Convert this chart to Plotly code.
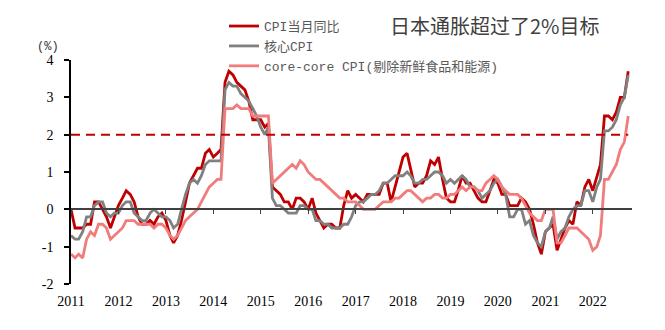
import pandas as pd
import plotly.graph_objects as go

# ---- data (monthly, Jan 2011 - Oct 2022, YoY %) ----
start_month = "2011-01-01"
end_month = "2022-10-01"
months = pd.date_range(start_month, end_month, freq="MS")

cpi_headline = [
    0.0, -0.5, -0.5, -0.5, -0.4, -0.4, 0.2, 0.2, 0.0, -0.2, -0.5, -0.2,   # 2011
    0.1, 0.3, 0.5, 0.4, 0.2, -0.2, -0.4, -0.4, -0.3, -0.4, -0.2, -0.1,    # 2012
    -0.3, -0.7, -0.9, -0.7, -0.3, 0.2, 0.7, 0.9, 1.1, 1.1, 1.5, 1.6,      # 2013
    1.4, 1.5, 1.6, 3.4, 3.7, 3.6, 3.4, 3.3, 3.2, 2.9, 2.4, 2.4,           # 2014
    2.4, 2.2, 2.3, 0.6, 0.5, 0.4, 0.2, 0.2, 0.0, 0.3, 0.3, 0.2,           # 2015
    0.0, 0.3, -0.1, -0.3, -0.5, -0.4, -0.4, -0.5, -0.5, 0.1, 0.5, 0.3,    # 2016
    0.4, 0.3, 0.2, 0.4, 0.4, 0.4, 0.4, 0.7, 0.7, 0.2, 0.6, 1.0,           # 2017
    1.4, 1.5, 1.1, 0.6, 0.7, 0.7, 0.9, 1.3, 1.2, 1.4, 0.8, 0.3,           # 2018
    0.2, 0.2, 0.5, 0.9, 0.7, 0.7, 0.5, 0.3, 0.2, 0.2, 0.5, 0.8,           # 2019
    0.7, 0.4, 0.4, 0.1, 0.1, 0.1, 0.3, 0.2, 0.0, -0.4, -0.9, -1.2,        # 2020
    -0.6, -0.5, -0.4, -1.1, -0.8, -0.5, -0.3, -0.4, 0.2, 0.1, 0.6, 0.8,   # 2021
    0.5, 0.9, 1.2, 2.5, 2.5, 2.4, 2.6, 3.0, 3.0, 3.7,                     # 2022
]

cpi_core = [
    -0.7, -0.8, -0.8, -0.6, -0.2, -0.2, 0.1, 0.2, 0.2, -0.1, -0.2, -0.1,  # 2011
    -0.1, 0.1, 0.2, 0.2, -0.1, -0.2, -0.3, -0.3, -0.1, 0.0, -0.1, -0.2,   # 2012
    -0.2, -0.3, -0.5, -0.4, 0.0, 0.4, 0.7, 0.8, 0.7, 0.9, 1.2, 1.3,       # 2013
    1.3, 1.3, 1.3, 3.2, 3.4, 3.3, 3.3, 3.1, 3.0, 2.9, 2.7, 2.5,           # 2014
    2.2, 2.0, 2.2, 0.3, 0.1, 0.1, 0.0, -0.1, -0.1, -0.1, 0.1, 0.1,        # 2015
    0.0, 0.0, -0.3, -0.3, -0.4, -0.4, -0.5, -0.5, -0.5, -0.4, -0.4, -0.2, # 2016
    0.1, 0.2, 0.2, 0.3, 0.4, 0.4, 0.5, 0.7, 0.7, 0.8, 0.9, 0.9,           # 2017
    0.9, 1.0, 0.9, 0.7, 0.7, 0.8, 0.8, 0.9, 1.0, 1.0, 0.9, 0.7,           # 2018
    0.8, 0.7, 0.8, 0.9, 0.8, 0.6, 0.6, 0.5, 0.3, 0.4, 0.5, 0.7,           # 2019
    0.8, 0.6, 0.4, -0.2, -0.2, 0.0, 0.0, -0.4, -0.3, -0.7, -0.9, -1.0,    # 2020
    -0.6, -0.5, -0.2, -0.8, -0.6, -0.5, -0.2, 0.0, 0.1, 0.1, 0.5, 0.5,    # 2021
    0.2, 0.6, 0.8, 2.1, 2.1, 2.2, 2.4, 2.8, 3.0, 3.6,                     # 2022
]

cpi_core_core = [
    -1.2, -1.3, -1.2, -1.3, -0.8, -0.6, -0.7, -0.4, -0.4, -0.5, -0.8, -0.7,  # 2011
    -0.6, -0.5, -0.3, -0.3, -0.3, -0.4, -0.4, -0.4, -0.4, -0.5, -0.4, -0.4,  # 2012
    -0.5, -0.7, -0.8, -0.7, -0.5, -0.3, -0.2, -0.1, 0.0, 0.2, 0.4, 0.6,      # 2013
    0.7, 0.8, 0.8, 2.7, 2.7, 2.7, 2.8, 2.7, 2.7, 2.7, 2.5, 2.5,              # 2014
    2.5, 2.5, 2.5, 0.7, 0.8, 0.9, 1.0, 1.1, 1.2, 1.1, 1.3, 1.2,              # 2015
    1.0, 0.9, 0.8, 0.8, 0.7, 0.6, 0.5, 0.4, 0.3, 0.3, 0.2, 0.2,              # 2016
    0.2, 0.1, 0.0, 0.0, 0.0, 0.0, 0.1, 0.2, 0.2, 0.2, 0.3, 0.3,              # 2017
    0.4, 0.5, 0.5, 0.4, 0.3, 0.2, 0.3, 0.3, 0.4, 0.4, 0.3, 0.3,              # 2018
    0.4, 0.4, 0.5, 0.6, 0.5, 0.6, 0.6, 0.5, 0.5, 0.7, 0.8, 0.9,              # 2019
    0.8, 0.6, 0.5, 0.4, 0.4, 0.4, 0.3, 0.1, -0.1, -0.2, -0.3, -0.3,          # 2020
    0.0, 0.0, 0.0, -0.9, -0.9, -0.7, -0.5, -0.5, -0.5, -0.6, -0.7, -0.8,     # 2021
    -1.1, -1.0, -0.7, 0.8, 0.8, 1.0, 1.2, 1.6, 1.8, 2.5,                     # 2022
]

target = 2.0

series_names = ["CPI当月同比", "核心CPI", "core-core CPI(剔除新鲜食品和能源)"]
year_ticks = [str(y) for y in range(2011, 2023)]
y_ticks = [-2, -1, 0, 1, 2, 3, 4]
y_tick_labels = ["-2", "-1", "0", "1", "2", "3", "4"]
title_text = "日本通胀超过了2%目标"
unit_text = "(%)"

# ---- styling ----
colors = ["#C00000", "#808080", "#F07C7C"]
serif = "Liberation Serif, Times New Roman, serif"
mono = "Liberation Mono, Noto Sans CJK SC, monospace"
x_range = [start_month, "2022-10-30"]
year_tickvals = [f"{y}-01-01" for y in year_ticks]

fig = go.Figure()
for name, vals, col in zip(series_names, [cpi_headline, cpi_core, cpi_core_core], colors):
    fig.add_trace(go.Scatter(x=months, y=vals, name=name, mode="lines",
                             line=dict(color=col, width=2.8)))

# 2% target line
fig.add_trace(go.Scatter(x=[months[0], months[-1]], y=[target, target], mode="lines",
                         xaxis="x2", yaxis="y", showlegend=False, hoverinfo="skip",
                         line=dict(color="#C00000", width=2, dash="9px,6px")))

fig.update_layout(
    width=665, height=330, autosize=False,
    margin=dict(l=71, r=33, t=59, b=46),
    paper_bgcolor="white", plot_bgcolor="white",
    title=dict(text=title_text, x=390 / 665, xanchor="left", xref="container",
               y=1 - 27 / 330, yanchor="middle", yref="container",
               font=dict(family="Noto Sans CJK SC", size=20, color="#404040")),
    showlegend=True,
    legend=dict(x=(224 - 71) / 561, xanchor="left", y=1.213, yanchor="top",
                font=dict(family=mono, size=13, color="#595959"),
                bgcolor="rgba(0,0,0,0)", tracegroupgap=0, itemwidth=30),
    xaxis=dict(type="date", range=x_range, tickvals=year_tickvals, ticktext=year_ticks,
               ticks="", showline=False, showgrid=False, zeroline=False,
               tickfont=dict(family=serif, size=14, color="black"),
               ticklabelstandoff=7),
    xaxis2=dict(type="date", overlaying="x", matches="x", anchor="free", position=1 / 3,
                tickvals=year_tickvals, showticklabels=False,
                ticks="outside", ticklen=4, tickwidth=1.2, tickcolor="#404040",
                showline=True, linecolor="#404040", linewidth=1.5,
                showgrid=False, zeroline=False),
    yaxis=dict(range=[-2, 4], tickvals=y_ticks, ticktext=y_tick_labels,
               ticks="outside", ticklen=5, tickwidth=1.5, tickcolor="black",
               showline=True, linecolor="black", linewidth=1.5,
               showgrid=False, zeroline=False,
               tickfont=dict(family=serif, size=14, color="black"),
               ticklabelstandoff=8),
    annotations=[dict(text=unit_text, xref="paper", yref="paper",
                      x=(48 - 71) / 561, y=1 - (46 - 59) / 225,
                      xanchor="center", yanchor="middle", showarrow=False,
                      font=dict(family=mono, size=12, color="#333333"))],
)

fig.write_html("out.html")
